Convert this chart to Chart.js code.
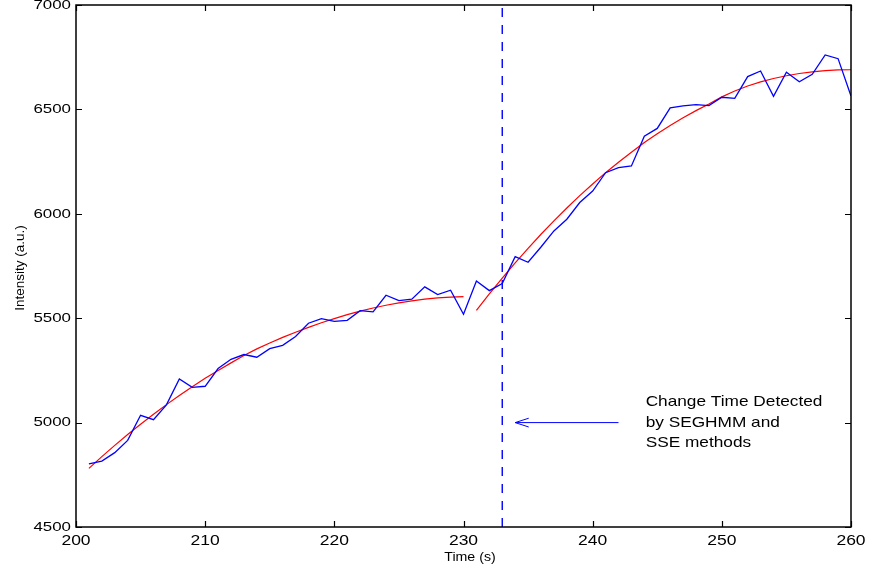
<!DOCTYPE html>
<html>
<head>
<meta charset="utf-8">
<script src="https://cdn.jsdelivr.net/npm/chart.js@4/dist/chart.umd.min.js"></script>
<style>
  body { margin: 0; background: #fff; }
  canvas { display: block; }
</style>
</head>
<body>
<canvas id="myChart" width="869" height="571"></canvas>
<script>
// measured intensity, one sample per second
let times = [];
for (let t = 201; t <= 260; t++) times.push(t);

let intensity = [
    4802, 4816, 4856, 4915, 5035, 5014, 5085, 5209, 5169, 5174,
    5259, 5303, 5326, 5313, 5354, 5370, 5412, 5476, 5498, 5485,
    5490, 5536, 5530, 5610, 5584, 5591, 5650, 5613, 5634, 5519,
    5678, 5632, 5666, 5795, 5768, 5841, 5918, 5974, 6054, 6109,
    6197, 6221, 6229, 6372, 6409, 6507, 6517, 6523, 6518, 6558,
    6553, 6657, 6684, 6563, 6678, 6632, 6668, 6761, 6743, 6564
];

// fitted curves before and after the change
let fitTimesA = times.slice(0, 30);
let fitA = [
    4781, 4837, 4891, 4943, 4992, 5040, 5086, 5130, 5172, 5212,
    5250, 5286, 5321, 5353, 5381, 5408, 5433, 5456, 5478, 5498,
    5517, 5534, 5549, 5562, 5573, 5583, 5591, 5597, 5601, 5603
];
let fitTimesB = times.slice(30);
let fitB = [
    5538, 5616, 5692, 5765, 5834, 5902, 5966, 6028, 6087, 6143,
    6197, 6247, 6295, 6341, 6383, 6423, 6460, 6494, 6526, 6560,
    6588, 6612, 6632, 6648, 6661, 6672, 6680, 6686, 6689, 6690
];

let changeTime = 233;
let arrowX = [242, 234];
let arrowHeadX = 235.05;
let arrowY = 5000;
let arrowHeadDy = 21;
let noteX = 244.1;
let noteLines = ['Change Time Detected', 'by SEGHMM and', 'SSE methods'];

let xTicks = [200, 210, 220, 230, 240, 250, 260];
let yTicks = [4500, 5000, 5500, 6000, 6500, 7000];

const pts = (xs, ys) => xs.map((x, i) => ({ x: x, y: ys[i] }));

const FONT = '"Liberation Sans", Arial, Helvetica, sans-serif';

// text drawn a little wider than the font's natural width
function wideText(ctx, txt, x, y, size, sx, align) {
    ctx.save();
    ctx.font = size + 'px ' + FONT;
    ctx.fillStyle = '#000';
    ctx.textAlign = align;
    ctx.textBaseline = 'middle';
    ctx.translate(x, y);
    ctx.scale(sx, 1);
    ctx.fillText(txt, 0, 0);
    ctx.restore();
}

// MATLAB-like box with inward ticks, labels and the annotation
const boxAxes = {
    id: 'boxAxes',
    afterDraw(chart) {
        const ctx = chart.ctx;
        const a = chart.chartArea;
        const xs = chart.scales.x;
        const ys = chart.scales.y;
        const tick = 6;

        ctx.save();
        ctx.strokeStyle = '#000';
        ctx.lineWidth = 1.2;
        ctx.beginPath();
        xTicks.forEach(v => {
            const px = Math.round(xs.getPixelForValue(v)) + 0.5;
            ctx.moveTo(px, a.bottom); ctx.lineTo(px, a.bottom - tick);
            ctx.moveTo(px, a.top); ctx.lineTo(px, a.top + tick);
        });
        yTicks.forEach(v => {
            const py = Math.round(ys.getPixelForValue(v)) + 0.5;
            ctx.moveTo(a.left, py); ctx.lineTo(a.left + tick, py);
            ctx.moveTo(a.right, py); ctx.lineTo(a.right - tick, py);
        });
        ctx.stroke();
        ctx.lineWidth = 1.5;
        ctx.strokeRect(a.left, a.top, a.right - a.left, a.bottom - a.top);
        ctx.restore();

        xTicks.forEach(v => {
            wideText(ctx, String(v), xs.getPixelForValue(v), a.bottom + 14, 14, 1.25, 'center');
        });
        yTicks.forEach(v => {
            wideText(ctx, String(v), a.left - 5, ys.getPixelForValue(v), 13.5, 1.25, 'right');
        });

        wideText(ctx, 'Time (s)', 470, 557, 13.5, 1.05, 'center');

        ctx.save();
        ctx.font = '13.5px ' + FONT;
        ctx.fillStyle = '#000';
        ctx.textAlign = 'center';
        ctx.textBaseline = 'middle';
        ctx.translate(20, 268);
        ctx.rotate(-Math.PI / 2);
        ctx.fillText('Intensity (a.u.)', 0, 0);
        ctx.restore();

        const nx = xs.getPixelForValue(noteX);
        const ny = ys.getPixelForValue(arrowY);
        noteLines.forEach((line, i) => {
            wideText(ctx, line, nx, ny - 20.5 + i * 20.5, 15, 1.15, 'left');
        });
    }
};

let data = {
    datasets: [{
        label: 'Intensity',
        data: pts(times, intensity),
        borderColor: '#0000ff',
        borderWidth: 1.3
    }, {
        label: 'Fit before',
        data: pts(fitTimesA, fitA),
        borderColor: '#ff0000',
        borderWidth: 1.2
    }, {
        label: 'Fit after',
        data: pts(fitTimesB, fitB),
        borderColor: '#ff0000',
        borderWidth: 1.2
    }, {
        label: 'Change time',
        data: pts([changeTime, changeTime], [4500, 7000]),
        borderColor: '#0000ff',
        borderWidth: 1.4,
        borderDash: [9, 8]
    }, {
        label: 'Arrow',
        data: pts(arrowX, [arrowY, arrowY]),
        borderColor: '#0000ff',
        borderWidth: 1
    }, {
        label: 'Arrow head',
        data: pts([arrowHeadX, arrowX[1], arrowHeadX],
                  [arrowY + arrowHeadDy, arrowY, arrowY - arrowHeadDy]),
        borderColor: '#0000ff',
        borderWidth: 1
    }]
};

let config = {
    type: 'line',
    data: data,
    options: {
        responsive: false,
        devicePixelRatio: 1,
        animation: false,
        layout: { padding: { left: 76, right: 18, top: 5, bottom: 44 } },
        elements: {
            point: { radius: 0 },
            line: { tension: 0, fill: false }
        },
        plugins: {
            legend: { display: false },
            tooltip: { enabled: false }
        },
        scales: {
            x: { type: 'linear', min: 200, max: 260, display: false },
            y: { type: 'linear', min: 4500, max: 7000, display: false }
        }
    },
    plugins: [boxAxes]
};

var myChart = new Chart(
    document.getElementById('myChart').getContext('2d'),
    config
);
</script>
</body>
</html>
